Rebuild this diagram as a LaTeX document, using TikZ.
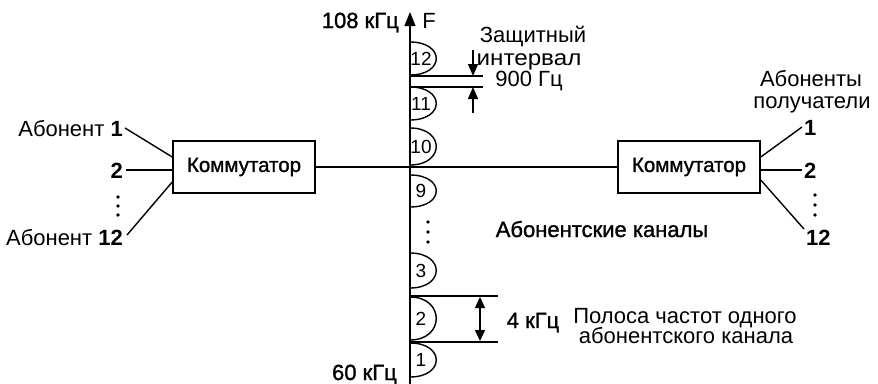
\documentclass[tikz,border=0pt]{standalone}
\usepackage{fontspec}
\setmainfont{Liberation Sans}
\newfontfamily\semibold[FakeBold=1.2]{Liberation Sans}
\usetikzlibrary{arrows.meta}
\begin{document}
\begin{tikzpicture}[x=1pt,y=-1pt,
  every node/.style={font=\fontsize{22}{26}\selectfont, inner sep=1pt},
  line/.style={line width=1.4pt},
  box/.style={draw, line width=1.5pt, minimum width=142pt, minimum height=52pt, inner sep=0pt, font=\fontsize{20.5}{24}\semibold},
  sb/.style={font=\fontsize{22}{26}\semibold},
  tip/.style={-{Triangle[length=12pt,width=10pt]}},
  dbl/.style={{Triangle[length=11pt,width=10pt]}-{Triangle[length=11pt,width=10pt]}},
  num/.style={font=\fontsize{19}{22}\selectfont}]
\useasboundingbox (0,0) rectangle (878,383);

% boxes
\node[box] (L) at (244,167) {Коммутатор};
\node[box] (R) at (689,167) {Коммутатор};
\draw[line] (L.east) -- (R.west);

% frequency axis
\coordinate (ax0) at (410,390);
\coordinate (ax1) at (410,12);
\draw[line,-{Triangle[length=14pt,width=11pt]}] (ax0) -- (ax1);
\node[sb,anchor=base east] (f108) at (400,28) {108 кГц};
\node[anchor=base] (F) at (429,28) {F};
\node[sb,anchor=base east] (f60) at (398,380) {60 кГц};

% channel lobes
\foreach \t/\b/\n in {42/75/12, 87/120/11, 128/165/10, 175/207/9, 253/288/3, 297/340/2, 343/377/1}{
  \draw[line] (410,\t) .. controls (445,\t) and (445,\b) .. (410,\b);
  \node[num] (c\n) at (421,{(\t+\b)/2}) {\n};
}
\foreach \y in {222,232,242} \fill (428,\y) circle (1.8pt);

% guard interval
\coordinate (g1a) at (410,76);  \coordinate (g1b) at (483,76);
\coordinate (g2a) at (410,87);  \coordinate (g2b) at (483,87);
\draw[line] (g1a) -- (g1b);
\draw[line] (g2a) -- (g2b);
\coordinate (gd0) at (473,50);  \coordinate (gd1) at (473,76);
\coordinate (gu0) at (473,113); \coordinate (gu1) at (473,87);
\draw[line,tip] (gd0) -- (gd1);
\draw[line,tip] (gu0) -- (gu1);
\node[anchor=base] (z1) at (533,42) {Защитный};
\node[anchor=base] (z2) at (529,65) {\scalebox{1.1}[1]{интервал}};
\node[anchor=base] (z3) at (529,86) {900 Гц};

% channel band
\coordinate (b1a) at (410,296); \coordinate (b1b) at (498,296);
\coordinate (b2a) at (410,342); \coordinate (b2b) at (498,342);
\draw[line] (b1a) -- (b1b);
\draw[line] (b2a) -- (b2b);
\coordinate (bw0) at (480,297); \coordinate (bw1) at (480,341);
\draw[line,dbl] (bw0) -- (bw1);
\node[sb,anchor=base] (k4) at (533,328) {4 кГц};
\node[anchor=base] (p1) at (685,323) {Полоса частот одного};
\node[anchor=base] (p2) at (686,343) {абонентского канала};

\node[sb,anchor=base] (ak) at (602,237) {Абонентские каналы};

% left subscribers
\node[anchor=base east] (a1) at (124,136) {Абонент \textbf{1}};
\node[anchor=base east] (a2) at (124,178) {\textbf{2}};
\node[anchor=base east] (a12) at (124,245) {Абонент \textbf{12}};
\draw[line] ([xshift=1pt,yshift=8pt]a1.base east) -- ([yshift=10pt]L.west);
\draw[line] ([xshift=2pt,yshift=8pt]a2.base east) -- ([yshift=-3pt]L.west);
\draw[line] ([xshift=3pt,yshift=10pt]a12.base east) -- ([yshift=-15pt]L.west);
\foreach \y in {197,206,215} \fill (118,\y) circle (1.8pt);

% right subscribers
\node[anchor=base] (rec1) at (811,86) {Абоненты};
\node[anchor=base] (rec2) at (812,108) {получатели};
\node[anchor=base west] (r1) at (803,135) {\textbf{1}};
\node[anchor=base west] (r2) at (803,178) {\textbf{2}};
\node[anchor=base west] (r12) at (805,245) {\textbf{12}};
\draw[line] ([yshift=10pt]R.east) -- ([xshift=-1pt,yshift=8pt]r1.base west);
\draw[line] ([yshift=-3pt]R.east) -- ([xshift=-1pt,yshift=8pt]r2.base west);
\draw[line] ([yshift=-13pt]R.east) -- ([xshift=-1pt,yshift=16pt]r12.base west);
\foreach \y in {195,205,215} \fill (815,\y) circle (1.8pt);
\end{tikzpicture}
\end{document}
